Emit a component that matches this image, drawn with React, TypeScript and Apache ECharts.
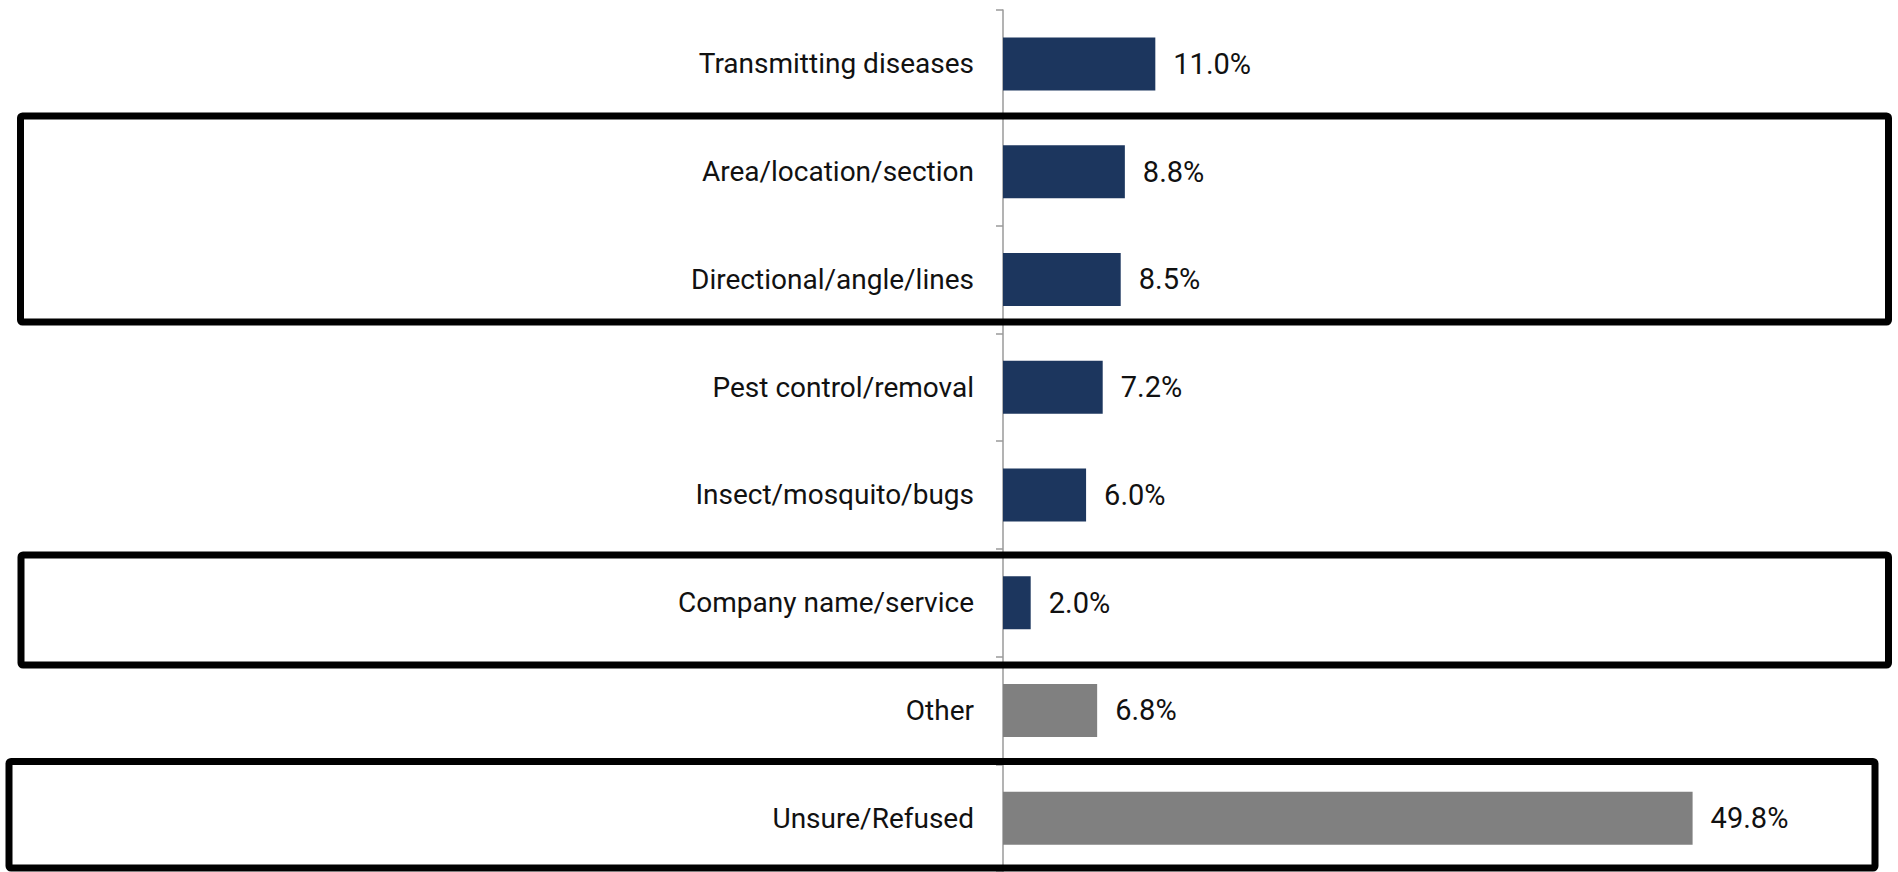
import React, { useEffect, useRef } from "react";
import * as echarts from "echarts";

const categories = [
  "Transmitting diseases",
  "Area/location/section",
  "Directional/angle/lines",
  "Pest control/removal",
  "Insect/mosquito/bugs",
  "Company name/service",
  "Other",
  "Unsure/Refused",
];
const values = [11.0, 8.8, 8.5, 7.2, 6.0, 2.0, 6.8, 49.8];
const barColors = ["#1c365e", "#1c365e", "#1c365e", "#1c365e", "#1c365e", "#1c365e", "#808080", "#808080"];

const FONT = "Roboto, 'Noto Sans', sans-serif";

export default function App() {
  const ref = useRef<HTMLDivElement>(null);
  useEffect(() => {
    if (!ref.current) return;
    const chart = echarts.init(ref.current, undefined, { renderer: "svg" });
    const boxStyle = { fill: "none", stroke: "#000", lineWidth: 7 };
    chart.setOption({
      animation: false,
      backgroundColor: "#fff",
      grid: { left: 1003, right: 60, top: 10, height: 866, containLabel: false },
      xAxis: {
        type: "value",
        min: 0,
        max: 60.3,
        show: false,
      },
      yAxis: {
        type: "category",
        data: categories,
        inverse: true,
        axisLine: { show: true, lineStyle: { color: "#9a9a9a", width: 1.5 } },
        axisTick: { show: true, length: 7, inside: false, lineStyle: { color: "#9a9a9a", width: 1.5 } },
        axisLabel: { color: "#111", fontSize: 28, fontFamily: FONT, margin: 29 },
      },
      series: [
        {
          type: "bar",
          data: values.map((v, i) => ({ value: v, itemStyle: { color: barColors[i] } })),
          barWidth: 53,
          label: {
            show: true,
            position: "right",
            distance: 18,
            color: "#111",
            fontSize: 29,
            fontFamily: FONT,
            formatter: (p: any) => p.value.toFixed(1) + "%",
          },
        },
      ],
      graphic: [
        { type: "rect", shape: { x: 20.5, y: 116, width: 1868, height: 206, r: 2 }, style: boxStyle, z: 100 },
        { type: "rect", shape: { x: 21, y: 555, width: 1867.5, height: 110, r: 2 }, style: boxStyle, z: 100 },
        { type: "rect", shape: { x: 9, y: 761.5, width: 1866, height: 106.5, r: 2 }, style: boxStyle, z: 100 },
      ],
    });
    return () => chart.dispose();
  }, []);
  return (
    <div
      ref={ref}
      style={{ position: "fixed", left: 0, top: 0, width: 1898, height: 872, background: "#fff" }}
    />
  );
}
